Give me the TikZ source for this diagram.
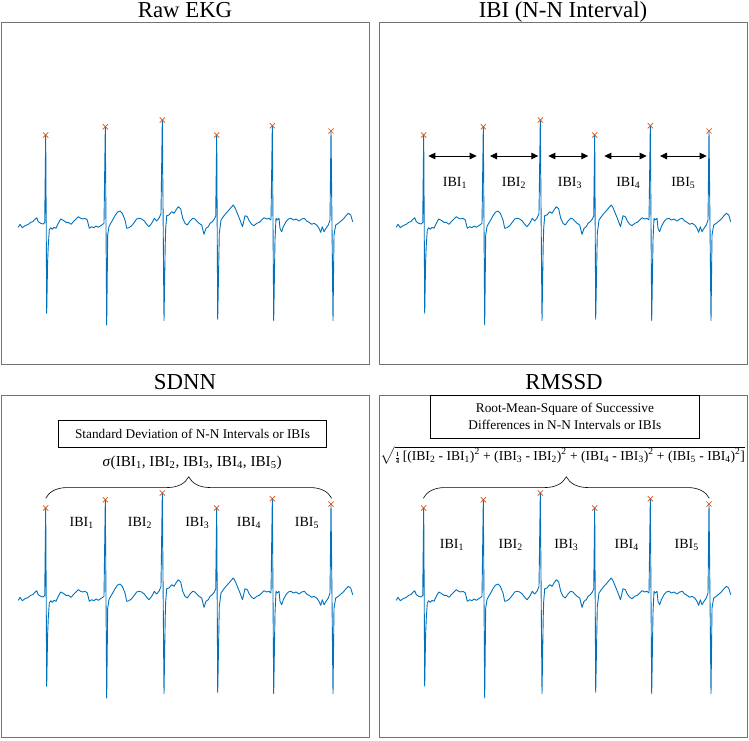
\documentclass[tikz,border=0pt]{standalone}
\usepackage{amsmath}
\usepackage{fontspec}
\setmainfont{Liberation Serif}
\usepackage{tikz}
\usetikzlibrary{positioning}
\usetikzlibrary{arrows.meta}
\usetikzlibrary{decorations.pathreplacing}
\usetikzlibrary{shapes.misc}
\definecolor{ekgblue}{rgb}{0,0.447,0.741}
\definecolor{peakorange}{rgb}{0.85,0.325,0.098}
\tikzset{
	panelbox/.style={draw=black!55, line width=0.8pt},
	paneltitle/.style={font=\fontsize{22.8}{26}\selectfont, inner sep=0pt, anchor=base},
	ekg/.style={draw=ekgblue, line width=0.9pt, line join=round},
	peakmark/.style={cross out, draw=peakorange, line width=0.7pt, minimum size=4.5pt, inner sep=0pt},
	ibiarrow/.style={{Triangle[length=7pt,width=6.5pt]}-{Triangle[length=7pt,width=6.5pt]}, line width=0.9pt},
	ibilabel/.style={font=\fontsize{14}{16}\selectfont, inner sep=0pt, anchor=base},
	defbox/.style={draw, line width=0.7pt, font=\fontsize{13.3}{16.7}\selectfont, align=center, inner sep=0pt},
	ibibrace/.style={decorate, decoration={brace, amplitude=21.5pt}, line width=0.6pt},
}
% one EKG strip with its six R peaks, named #1p1 ... #1p6
\newcommand{\ekgpanel}[1]{%
	\draw[ekg] plot coordinates {
		(18.3,227.3) (20,224.3) (22.3,227.7) (25,225.7) (28.3,224.3) (30.7,222.3) (32.7,221.7) (34.3,220) (36.7,217.7) (38.3,221.7) (40.7,223.3) (43.3,224) (44.7,222.3)
		(45.7,135) (46.7,313.3) (47.6,262) (48.3,245) (49.3,230) (50.7,227.7) (52.3,229.3) (54,227.3) (56,228.3) (58.3,223.3) (60.7,219) (63.3,220.3) (66,222.3) (68.3,222.3) (71,224.3) (73.3,221.7) (76,219) (78.3,216.7) (80.7,218.3) (82.7,219) (85,218.3) (87.3,220) (89.3,228.3) (91.7,226.7) (94,227.7) (96,226) (98.3,227.3) (100.7,225.7) (102.7,224.3) (104,223.3)
		(105.3,126.7) (106.7,325) (107.7,235) (109,226.7) (110.7,223.3) (112.7,220) (115,215.7) (117.3,212.3) (120,211) (122.3,213.3) (125,220) (126.7,228.3) (129,227.7) (131.7,225.7) (134.3,222.3) (136.7,219) (139,218.3) (141.7,219) (144.3,221) (146.7,224.3) (149,226.7) (151.7,223.3) (154.3,218.3) (156.7,221) (159.3,217.7) (161,213.3)
		(162.3,120) (164,320.7) (165.2,245) (165.7,228.3) (166.7,215.7) (169,215) (171.7,211.7) (174,213.3) (176,210) (178.3,206.7) (180.7,209) (182.7,218.3) (185,223.3) (187.3,225) (190,221) (192.7,218.3) (195,219) (196.7,221) (199,223.3) (201.7,225) (204,234.3) (206,228.3) (208.3,226.7) (210,223.3) (212.3,221.7) (214.3,219) (215.7,216)
		(216.7,135) (217.7,319.3) (219.3,233.3) (221,220) (223.3,216.7) (226,213.3) (229,210) (231.7,206.7) (233.3,205) (235,207.7) (237.3,213.3) (240,220) (242.5,226.7) (245,215.7) (247.3,216.7) (249.3,221) (251.7,224.3) (254,225.7) (256.7,223.3) (259.3,222.3) (261.7,220) (264,217.7) (266.7,219) (269,218.3) (271,220)
		(272.3,125.7) (273.7,320.7) (275,240) (276,218.3) (277.3,220) (279,218.3) (280,228.3) (281.7,231.7) (283.3,226.7) (286,221.7) (288.3,219) (291,218.3) (293.3,220) (296,219) (299,221) (301.7,219) (304.3,218.3) (306.7,221) (309,222.3) (311.7,224.3) (314,223.3) (316.7,225) (319,228.3) (320.7,232.3) (322.3,226.7) (324,231.7) (326,228.3) (328.3,225) (330,220)
		(331,131) (333,320.7) (334,235) (335.7,225) (338.3,223.3) (341,221) (343.3,219) (346,215.7) (348.3,213.3) (350.7,215) (352.7,221.7)
	};
	\foreach \k/\px/\py in {1/45.7/135, 2/105.3/126.7, 3/162.3/120, 4/216.7/135, 5/272.3/125.7, 6/331/131}
		\node[peakmark] (#1p\k) at (\px,\py) {};
	\draw[panelbox] (1,22) rectangle (369,364.5);
}

\begin{document}
\begin{tikzpicture}[x=1pt,y=-1pt]
	\useasboundingbox (0,0) rectangle (749,740);

	% Raw EKG
	\begin{scope}
		\ekgpanel{raw}
		\node[paneltitle] (rawtitle) at (185,17.3) {Raw EKG};
	\end{scope}

	% IBI
	\begin{scope}[shift={(378,0)}]
		\ekgpanel{ibi}
		\node[paneltitle] (ibititle) at (185,17.3) {IBI (N-N Interval)};
		\foreach \a/\b/\m/\n in {50.3/98.7/77/1, 112/160.3/136/2, 170.3/210.3/192/3, 226.3/268.7/250.3/4, 282/328.7/305.3/5} {
			\coordinate (ibiA\n) at (\a,156);
			\coordinate (ibiB\n) at (\b,156);
			\draw[ibiarrow] (ibiA\n) -- (ibiB\n);
			\node[ibilabel] (ibiL\n) at (\m,186.5) {IBI\textsubscript{\n}};
		}
	\end{scope}

	% SDNN
	\begin{scope}[shift={(0,373)}]
		\ekgpanel{sd}
		\node[paneltitle] (sdtitle) at (185,16.8) {SDNN};
		\node[defbox, minimum width=268.4pt, minimum height=26.6pt] (sddef) at (192.5,61) {Standard Deviation of N-N Intervals or IBIs};
		\node[font=\fontsize{15.2}{18}\selectfont, inner sep=0pt, anchor=base] (sdform) at (192.2,93.5)
			{\textit{σ}(IBI\textsubscript{1}, IBI\textsubscript{2}, IBI\textsubscript{3}, IBI\textsubscript{4}, IBI\textsubscript{5})};
		\coordinate (sdL) at (45.7,125.3);
		\coordinate (sdR) at (331.7,125.3);
		\draw[ibibrace] (sdL) -- (sdR);
		\foreach \m/\n in {81.7/1, 140/2, 197.3/3, 249/4, 307/5}
			\node[ibilabel] (sdL\n) at (\m,153.5) {IBI\textsubscript{\n}};
	\end{scope}

	% RMSSD
	\begin{scope}[shift={(378,373)}]
		\ekgpanel{rm}
		\node[paneltitle] (rmtitle) at (186,16.8) {RMSSD};
		\node[defbox, minimum width=268.3pt, minimum height=43.3pt] (rmdef) at (186.9,43.7)
			{Root-Mean-Square of Successive\\Differences in N-N Intervals or IBIs};
		\node[font=\fontsize{13.6}{16}\selectfont, inner sep=0pt] (rmform) at (184.8,82)
			{$\sqrt{\text{\fontsize{9}{9}\selectfont\bfseries$\genfrac{}{}{0.5pt}{}{\text{1}}{\text{4}}$}\,\text{[(IBI\textsubscript{2} - IBI\textsubscript{1})\textsuperscript{2} + (IBI\textsubscript{3} - IBI\textsubscript{2})\textsuperscript{2} + (IBI\textsubscript{4} - IBI\textsubscript{3})\textsuperscript{2} + (IBI\textsubscript{5} - IBI\textsubscript{4})\textsuperscript{2}]}}$};
		\coordinate (rmL) at (45.3,125.3);
		\coordinate (rmR) at (331.3,125.3);
		\draw[ibibrace] (rmL) -- (rmR);
		\foreach \m/\n in {74/1, 132.7/2, 188.3/3, 248.7/4, 308.7/5}
			\node[ibilabel] (rmL\n) at (\m,175.3) {IBI\textsubscript{\n}};
	\end{scope}
\end{tikzpicture}
\end{document}
